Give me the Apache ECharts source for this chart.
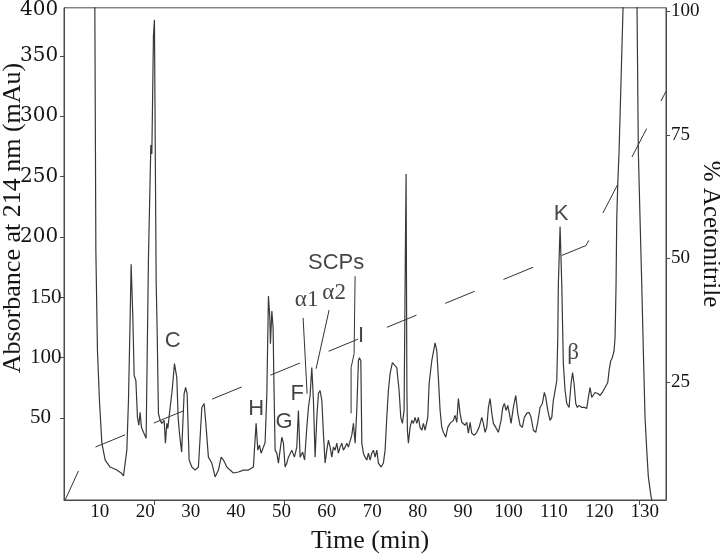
<!DOCTYPE html>
<html>
<head>
<meta charset="utf-8">
<script src="https://cdn.jsdelivr.net/npm/echarts@6/dist/echarts.min.js"></script>
<style>html,body{margin:0;padding:0;background:#fff}#c{width:720px;height:555px}</style>
</head>
<body>
<div id="c"></div>
<script>
// Chromatogram: [time (min), absorbance at 214 nm (mAu)]
const absorbance = [
[8.85,427],[9.12,188],[9.47,105.7],[9.91,64.5],[10.44,29.1],[11.17,15.1],[12.27,9.3],[13.74,6.8],[14.69,4.4],[15.20,1.9],
[15.94,23.3],[16.30,64.5],[16.67,132.8],[16.89,177.3],[17.27,132.8],[17.55,85.1],[17.93,81.0],[18.28,50.5],[18.59,43.9],[18.87,54.6],
[19.16,42.2],[19.60,38.1],[20.19,33.2],[20.48,34.0],[20.70,182.2],[21.23,276.1],[21.45,268.7],[21.80,366.7],[22.02,379.9],[22.22,262.1],
[22.40,163.3],[22.62,122.1],[22.90,53.8],[23.28,48.0],[23.65,45.5],[24.16,48.0],[24.44,29.1],[24.75,45.5],[24.97,41.4],[25.48,58.7],
[25.92,72.7],[26.43,95.0],[26.95,83.4],[27.24,50.5],[27.53,37.3],[28.01,21.7],[28.56,70.2],[28.89,75.2],[29.22,70.2],[29.66,15.1],
[30.26,9.3],[30.99,6.8],[31.71,9.3],[32.46,58.7],[32.97,62.0],[33.34,45.5],[33.91,17.5],[34.66,12.6],[35.39,1.1],[36.12,6.8],
[36.71,17.5],[37.22,15.1],[37.97,9.3],[38.69,6.8],[39.42,4.4],[40.52,5.2],[41.62,6.8],[42.72,6.8],[43.82,9.3],[44.04,23.3],
[44.42,45.5],[44.79,23.3],[45.15,27.4],[45.52,20.8],[46.03,25.8],[46.40,29.9],[46.78,70.2],[47.13,150.9],[47.44,132.8],[47.57,111.4],
[47.88,138.6],[48.16,124.6],[48.32,83.4],[48.60,23.3],[48.98,20.8],[49.33,12.6],[49.70,23.3],[50.08,34.0],[50.43,29.1],[50.80,9.3],
[51.18,12.6],[51.53,17.5],[52.28,23.3],[52.85,17.5],[53.38,25.8],[53.73,56.2],[54.11,17.5],[54.66,21.7],[55.10,15.1],[55.54,39.8],
[55.94,58.7],[56.31,68.6],[56.68,91.7],[56.86,78.5],[57.04,64.5],[57.41,17.5],[57.79,50.5],[58.14,70.2],[58.51,72.7],[58.89,64.5],
[59.24,37.3],[59.61,12.6],[59.99,23.3],[60.34,31.5],[60.72,25.8],[61.09,17.5],[61.44,25.8],[61.82,23.3],[62.19,29.1],[62.54,20.8],
[62.92,25.8],[63.29,29.1],[63.64,23.3],[64.02,25.8],[64.39,29.1],[64.74,25.8],[65.49,35.7],[65.85,45.5],[66.22,29.1],[66.59,56.2],
[66.95,97.4],[67.17,99.9],[67.48,97.4],[67.70,29.1],[68.05,20.8],[68.42,17.5],[68.80,15.1],[69.15,20.8],[69.52,15.1],[69.90,20.8],
[70.25,23.3],[70.62,17.5],[71.00,23.3],[71.35,12.6],[71.95,9.3],[72.45,12.6],[72.83,23.3],[73.20,50.5],[73.55,72.7],[73.93,86.7],
[74.43,95.8],[74.87,97.4],[75.40,91.7],[75.91,72.7],[76.28,50.5],[76.64,45.5],[77.01,56.2],[77.28,182.2],[77.45,252.2],[77.63,72.7],
[77.74,39.8],[77.96,29.1],[78.33,42.2],[78.71,48.0],[79.06,45.5],[79.43,50.5],[79.81,45.5],[80.16,50.5],[80.53,42.2],[80.91,39.8],
[81.26,45.5],[81.64,39.8],[82.23,50.5],[82.52,78.5],[83.11,97.4],[83.84,112.2],[84.21,105.7],[84.56,83.4],[84.94,56.2],[85.31,42.2],
[85.66,38.1],[86.19,34.0],[86.63,42.2],[87.14,45.5],[87.52,43.9],[87.87,48.0],[88.24,52.1],[88.62,46.4],[88.97,66.1],[89.34,53.8],
[89.72,46.4],[90.07,48.0],[90.44,43.9],[90.82,46.4],[91.17,37.3],[91.55,46.4],[91.92,37.3],[92.49,35.7],[93.02,38.1],[93.53,42.2],
[94.12,50.5],[94.47,45.5],[94.85,38.1],[95.22,42.2],[95.58,58.7],[95.95,66.1],[96.33,53.8],[96.68,45.5],[97.20,42.2],[97.78,38.1],
[98.37,48.0],[98.75,58.7],[99.10,62.0],[99.47,56.2],[99.85,60.4],[100.20,53.8],[100.57,45.5],[101.08,58.7],[101.61,68.6],[102.05,53.8],
[102.56,43.9],[103.06,42.2],[103.50,50.5],[104.03,53.8],[104.54,54.6],[104.98,50.5],[105.49,39.8],[106.01,38.1],[106.45,46.4],[106.96,58.7],
[107.47,62.0],[107.91,71.1],[108.22,67.0],[108.66,56.2],[109.16,48.0],[109.54,50.5],[109.89,64.5],[110.27,72.7],[110.64,81.0],[110.86,116.0],
[110.99,160.8],[111.37,208.5],[111.74,160.8],[112.09,95.0],[112.47,72.7],[112.84,62.0],[113.35,58.7],[113.79,78.5],[114.12,87.5],[114.45,78.5],
[114.82,62.0],[115.17,58.7],[115.55,60.4],[116.14,58.7],[116.72,58.7],[117.25,57.9],[117.60,67.0],[117.97,75.2],[118.35,67.0],[118.70,66.1],
[119.07,71.1],[119.67,70.2],[120.18,68.6],[120.68,71.1],[121.27,75.2],[121.87,79.3],[122.16,89.2],[122.53,97.4],[122.88,99.9],[123.26,105.7],
[123.48,116.5],[123.70,160.8],[123.85,215.2],[124.07,243.2],[124.36,270.4],[125.24,389.8],[125.68,427],[127.88,427],[128.32,389.8],[128.61,270.4],
[128.98,215.2],[129.36,160.8],[129.71,105.7],[130.08,50.5],[130.46,23.3],[130.81,1.1],[131.41,-15.4],[132.07,-26]
];

// Acetonitrile gradient: [time (min), % acetonitrile]
const gradient = [[2.36,1.1],[7.38,11.2],[117.09,52.6],[134.7,83.8]];

// Peak labels: [time, absorbance, text]
const peakLabels = [
  [26.03,113.9,'C'],[44.42,57.1,'H'],[50.58,46.4,'G'],[53.45,70.2,'F'],
  [62.04,178.1,'SCPs'],[67.54,118.0,'I'],[111.59,219.3,'K']
];
const greekLabels = [[55.54,147.7,'α1'],[61.60,153.7,'α2'],[114.23,104.0,'β']];

// Leader lines from labels to peaks
const leaderAlpha1 = [[54.77,132.8],[55.65,70.2]];
const leaderAlpha2 = [[60.49,139.4],[57.63,90.8]];
const leaderSCPs = [[66.22,167.4],[66.0,103.2],[65.34,91.7],[65.34,53.8]];

const timeTicks = [10,20,30,40,50,60,70,80,90,100,110,120,130];
const timeTickMarks = [22,50.6,128.7];
const absTicks = [50,100,150,200,250,300,350,388];
const acnTicks = [25,50,75,100];

const axisColor = '#4a4a4a';
const textColor = '#151515';

const chart = echarts.init(document.getElementById('c'), null, {renderer:'canvas'});

const leaderSeries = [leaderAlpha1, leaderAlpha2, leaderSCPs].map(d => ({
  type:'line', data:d, symbol:'none', silent:true,
  lineStyle:{color:'#333', width:1}, z:3
}));

chart.setOption({
  animation:false,
  backgroundColor:'#fff',
  grid:{left:64, right:54, top:5, bottom:55, show:true, borderColor:axisColor, borderWidth:1, backgroundColor:'transparent'},
  xAxis:{
    type:'value', min:2.1, max:134.7,
    axisLine:{show:true, onZero:false, lineStyle:{color:axisColor, width:1}},
    axisTick:{show:true, customValues:timeTickMarks, length:5, inside:false, lineStyle:{color:axisColor}},
    axisLabel:{customValues:timeTicks, fontFamily:'Liberation Serif', fontSize:19, color:textColor, margin:3},
    splitLine:{show:false}
  },
  yAxis:[{
    type:'value', position:'left', min:-18, max:389.8,
    axisLine:{show:true, onZero:false, lineStyle:{color:axisColor, width:1}},
    axisTick:{show:true, customValues:[50,100,150,200,250,300,350], length:4, lineStyle:{color:axisColor}},
    axisLabel:{
      customValues:absTicks, align:'left', margin:44,
      formatter:function(v){
        if (v > 380) return '{u|400}';
        if (v >= 200) return '{u|' + v + '}';
        return '{l|' + v + '}';
      },
      rich:{
        u:{fontFamily:'DejaVu Serif', fontSize:20, color:textColor},
        l:{fontFamily:'Liberation Serif', fontSize:21, color:textColor, padding:[0,0,0,10]}
      }
    },
    splitLine:{show:false}
  },{
    type:'value', position:'right', min:1.1, max:100.7,
    axisLine:{show:true, onZero:false, lineStyle:{color:axisColor, width:1}},
    axisTick:{show:true, customValues:acnTicks, length:4, lineStyle:{color:axisColor}},
    axisLabel:{customValues:acnTicks, fontFamily:'Liberation Serif', fontSize:19, color:textColor, margin:5},
    splitLine:{show:false}
  }],
  series:[
    {
      type:'line', name:'A214', data:absorbance, symbol:'none', clip:true,
      lineStyle:{color:'#383838', width:1.2}, z:4
    },
    {
      type:'line', name:'Acetonitrile', yAxisIndex:1, data:gradient, symbol:'none', clip:true,
      lineStyle:{color:'#333', width:1, type:[32,31], dashOffset:0}, z:3
    },
    ...leaderSeries,
    {
      type:'scatter', silent:true, symbolSize:1, itemStyle:{color:'transparent'}, z:6,
      data:peakLabels.map(p => ({value:[p[0],p[1]], name:p[2]})),
      label:{show:true, position:'inside', formatter:p => p.name, fontFamily:'Liberation Sans', fontSize:22, color:textColor}
    },
    {
      type:'scatter', silent:true, symbolSize:1, itemStyle:{color:'transparent'}, z:6,
      data:greekLabels.map(p => ({value:[p[0],p[1]], name:p[2]})),
      label:{show:true, position:'inside', formatter:p => p.name, fontFamily:'Liberation Serif', fontSize:23, color:textColor}
    }
  ],
  graphic:[
    {type:'text', x:13, y:218, rotation:Math.PI/2,
     style:{text:'Absorbance at 214 nm (mAu)', font:'26px "Liberation Serif"', fill:textColor, align:'center', verticalAlign:'middle'}},
    {type:'text', x:711, y:234, rotation:-Math.PI/2,
     style:{text:'% Acetonitrile', font:'25px "Liberation Serif"', fill:textColor, align:'center', verticalAlign:'middle'}},
    {type:'text', x:370, y:541,
     style:{text:'Time (min)', font:'26px "Liberation Serif"', fill:textColor, align:'center', verticalAlign:'middle'}}
  ]
});
</script>
</body>
</html>
